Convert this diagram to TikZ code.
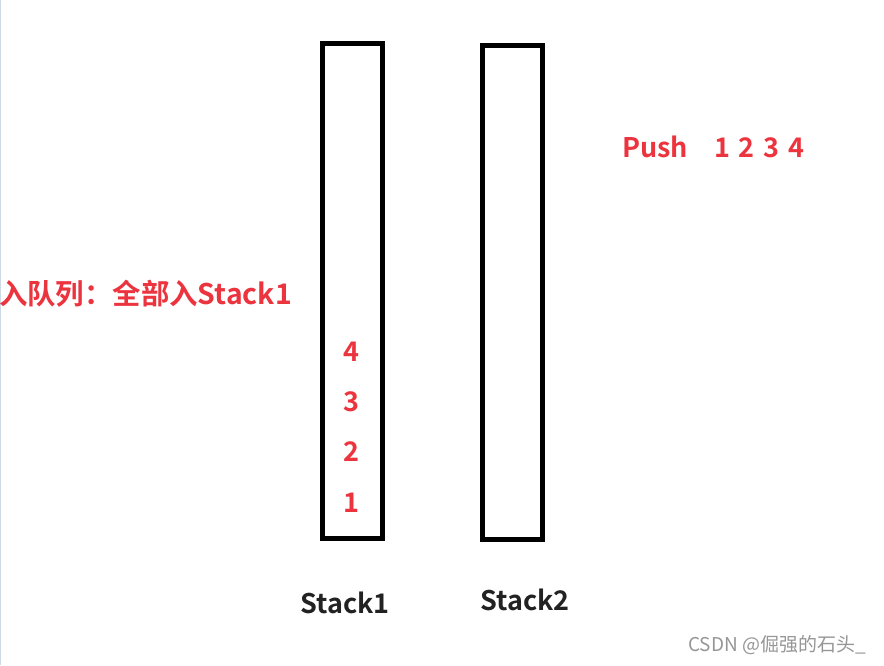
\documentclass[tikz,border=0pt]{standalone}
\usepackage{fontspec}
\setmainfont{Noto Sans CJK SC}
\newfontfamily\cjkb{Noto Sans CJK SC Bold}
\newfontfamily\cjkr{Noto Sans CJK SC}
\definecolor{redtxt}{RGB}{235,52,62}
\definecolor{darktxt}{RGB}{34,34,34}
\definecolor{marktxt}{RGB}{150,150,150}
\definecolor{edgeline}{RGB}{205,218,228}
\begin{document}
\begin{tikzpicture}[x=1pt,y=-1pt,
  stackbox/.style={draw=black,line width=5pt},
  redlabel/.style={text=redtxt,font=\cjkb\fontsize{27}{30}\selectfont,inner sep=0pt},
  stacklabel/.style={text=darktxt,font=\cjkb\fontsize{27}{30}\selectfont,inner sep=0pt},
  numlabel/.style={text=redtxt,font=\cjkb\fontsize{27}{30}\selectfont,inner sep=0pt}]
\useasboundingbox (0,0) rectangle (884,665);
\fill[white] (0,0) rectangle (884,665);
\draw[edgeline,line width=1.2pt] (0.6,0) -- (0.6,665);
\draw[stackbox] (322,43.5) rectangle (382.5,538);
\draw[stackbox] (482,45.8) rectangle (542,539);
\node[numlabel] (n4) at (351,352) {4};
\node[numlabel] (n3) at (351,402) {3};
\node[numlabel] (n2) at (351,452) {2};
\node[numlabel] (n1) at (351,503) {1};
\node[redlabel,font=\cjkb\fontsize{28.4}{30}\selectfont,anchor=west] (enq) at (-1,294) {入队列：全部入Stack1};
\node[redlabel,anchor=west] (push) at (622,147) {Push\hspace{26pt}1\hspace{9pt}2\hspace{9pt}3\hspace{9pt}4};
\node[stacklabel] (s1) at (345,603) {Stack1};
\node[stacklabel] (s2) at (525,600) {Stack2};
\node[text=marktxt,font=\cjkr\fontsize{19}{21}\selectfont,inner sep=0pt,anchor=west] (wm) at (688,645) {CSDN @倔强的石头\_};
\end{tikzpicture}
\end{document}
